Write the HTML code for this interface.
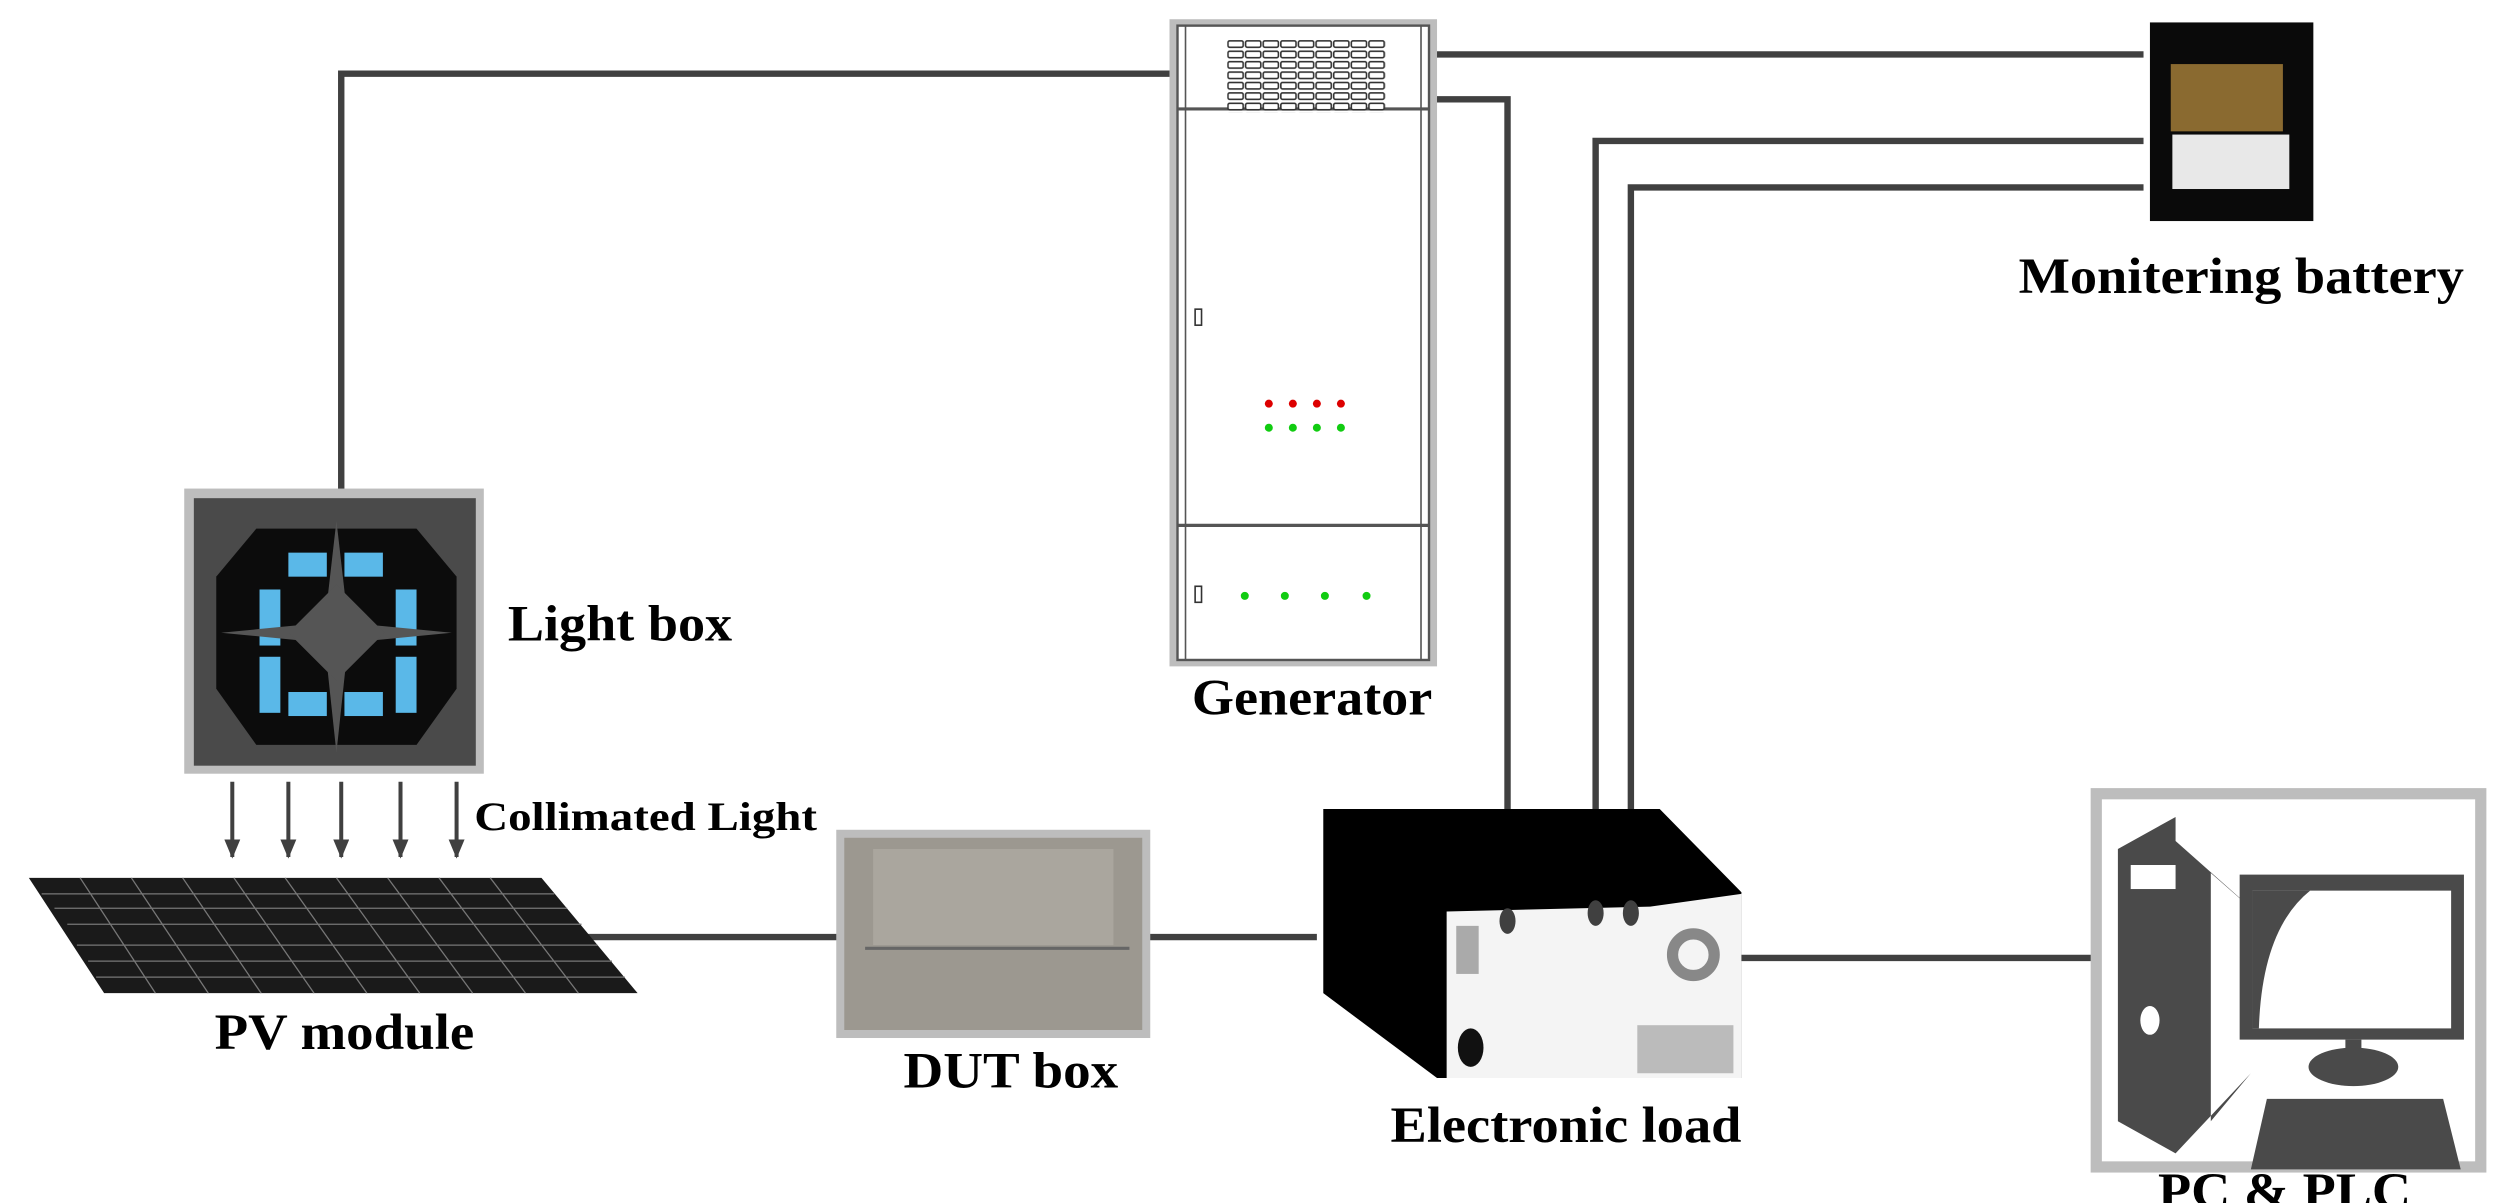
<!DOCTYPE html>
<html><head><meta charset="utf-8"><style>html,body{margin:0;padding:0;background:#fff}svg{display:block}</style></head>
<body>
<svg width="2512" height="1203" viewBox="0 0 1568 751" preserveAspectRatio="none" xmlns="http://www.w3.org/2000/svg">
<defs>
<marker id="ar" markerWidth="12" markerHeight="10" refX="11" refY="5" orient="auto" markerUnits="userSpaceOnUse">
<path d="M0,0 L12,5 L0,10 Z" fill="#404040"/></marker>
<pattern id="vent" x="766" y="25" width="11" height="6.5" patternUnits="userSpaceOnUse">
<rect x="0.5" y="0.5" width="9.5" height="4" fill="#fff" stroke="#333" stroke-width="1" rx="1"/></pattern>
</defs>
<g fill="none" stroke="#404040" stroke-width="4">
<polyline points="213,308 213,46 735,46"/>
<line x1="890" y1="34" x2="1338" y2="34"/>
<polyline points="890,62 941,62 941,575"/>
<polyline points="1338,88 996,88 996,570"/>
<polyline points="1338,117 1018,117 1018,570"/>
<line x1="365" y1="585" x2="525" y2="585"/>
<line x1="712" y1="585" x2="822" y2="585"/>
<line x1="1087" y1="598" x2="1308" y2="598"/>
</g>
<!-- generator -->
<rect x="730" y="12" width="167" height="404" fill="#bdbdbd"/>
<rect x="735" y="16" width="157" height="396" fill="#fff" stroke="#555" stroke-width="1.5"/>
<line x1="740" y1="16" x2="740" y2="412" stroke="#555"/>
<line x1="887" y1="16" x2="887" y2="412" stroke="#555"/>
<line x1="735" y1="68" x2="892" y2="68" stroke="#555" stroke-width="2"/>
<line x1="735" y1="328" x2="892" y2="328" stroke="#555" stroke-width="2"/>
<rect x="766" y="25" width="99" height="45.5" fill="url(#vent)"/>
<rect x="746" y="193" width="4" height="10" fill="#fff" stroke="#333"/>
<rect x="746" y="366" width="4" height="10" fill="#fff" stroke="#333"/>
<g fill="#d00"><circle cx="792" cy="252" r="2.5"/><circle cx="807" cy="252" r="2.5"/><circle cx="822" cy="252" r="2.5"/><circle cx="837" cy="252" r="2.5"/></g>
<g fill="#1c1"><circle cx="792" cy="267" r="2.5"/><circle cx="807" cy="267" r="2.5"/><circle cx="822" cy="267" r="2.5"/><circle cx="837" cy="267" r="2.5"/>
<circle cx="777" cy="372" r="2.5"/><circle cx="802" cy="372" r="2.5"/><circle cx="827" cy="372" r="2.5"/><circle cx="853" cy="372" r="2.5"/></g>
<!-- battery -->
<rect x="1342" y="14" width="102" height="124" fill="#0a0a0a"/>
<rect x="1355" y="40" width="70" height="42" fill="#8a6a30"/>
<rect x="1356" y="84" width="73" height="34" fill="#e8e8e8"/>
<!-- light box -->
<rect x="115" y="305" width="187" height="178" fill="#bdbdbd"/>
<rect x="121" y="311" width="176" height="167" fill="#4a4a4a"/>
<polygon points="160,330 260,330 285,360 285,430 260,465 160,465 135,430 135,360" fill="#0c0c0c"/>
<g fill="#5ab8e8"><rect x="180" y="345" width="24" height="15"/><rect x="215" y="345" width="24" height="15"/><rect x="162" y="368" width="13" height="35"/><rect x="162" y="410" width="13" height="35"/><rect x="247" y="368" width="13" height="35"/><rect x="247" y="410" width="13" height="35"/><rect x="180" y="432" width="24" height="15"/><rect x="215" y="432" width="24" height="15"/></g>
<polygon points="210,325 218,395 210,470 202,395" fill="#555"/>
<polygon points="138,395 210,388 282,395 210,402" fill="#555"/>
<polygon points="210,365 240,395 210,425 180,395" fill="#555"/>
<!-- arrows -->
<g stroke="#404040" stroke-width="2.5" marker-end="url(#ar)">
<line x1="145" y1="488" x2="145" y2="535"/><line x1="180" y1="488" x2="180" y2="535"/><line x1="213" y1="488" x2="213" y2="535"/><line x1="250" y1="488" x2="250" y2="535"/><line x1="285" y1="488" x2="285" y2="535"/>
</g>
<!-- PV -->
<polygon points="18,548 338,548 398,620 65,620" fill="#1a1a1a"/>
<g stroke="#777" stroke-width="0.8">
<line x1="26" y1="558" x2="346" y2="558"/><line x1="34" y1="567" x2="354" y2="567"/><line x1="42" y1="577" x2="363" y2="577"/><line x1="48" y1="590" x2="373" y2="590"/><line x1="55" y1="600" x2="382" y2="600"/><line x1="60" y1="610" x2="390" y2="610"/>
<line x1="50" y1="548" x2="97" y2="620"/><line x1="82" y1="548" x2="130" y2="620"/><line x1="114" y1="548" x2="163" y2="620"/><line x1="146" y1="548" x2="196" y2="620"/><line x1="178" y1="548" x2="229" y2="620"/><line x1="210" y1="548" x2="262" y2="620"/><line x1="242" y1="548" x2="295" y2="620"/><line x1="274" y1="548" x2="328" y2="620"/><line x1="306" y1="548" x2="361" y2="620"/>
</g>
<!-- DUT -->
<rect x="522" y="518" width="196" height="130" fill="#bdbdbd"/>
<rect x="527" y="523" width="186" height="120" fill="#9c9890"/>
<rect x="545" y="530" width="150" height="60" fill="#aaa69e"/>
<line x1="540" y1="592" x2="705" y2="592" stroke="#666" stroke-width="2"/>
<!-- electronic load -->
<polygon points="826,505 1036,505 1087,557 1087,673 897,673 826,620" fill="#000"/>
<polygon points="903,569 1030,566 1087,558 1087,673 903,673" fill="#f4f4f4"/>
<circle cx="1057" cy="596" r="13" fill="none" stroke="#888" stroke-width="7"/>
<rect x="1022" y="640" width="60" height="30" fill="#bbb"/>
<ellipse cx="918" cy="654" rx="8" ry="12" fill="#111"/>
<rect x="909" y="578" width="14" height="30" fill="#aaa"/>
<g fill="#404040"><ellipse cx="941" cy="575" rx="5" ry="8"/><ellipse cx="996" cy="570" rx="5" ry="8"/><ellipse cx="1018" cy="570" rx="5" ry="8"/></g>
<!-- PC -->
<rect x="1305" y="492" width="247" height="240" fill="#bdbdbd"/>
<rect x="1312" y="499" width="233" height="226" fill="#fff"/>
<polygon points="1322,530 1358,510 1358,525 1420,580 1380,545 1380,700 1405,670 1358,720 1322,700" fill="#4a4a4a"/>
<rect x="1330" y="540" width="28" height="15" fill="#fff"/>
<ellipse cx="1342" cy="637" rx="6" ry="9" fill="#fff"/>
<rect x="1398" y="546" width="140" height="103" fill="#4a4a4a"/>
<rect x="1406" y="556" width="124" height="86" fill="#fff"/>
<path d="M1406,556 L1442,556 Q1412,580 1410,642 L1406,642 Z" fill="#4a4a4a"/>
<rect x="1464" y="649" width="10" height="10" fill="#4a4a4a"/>
<ellipse cx="1469" cy="666" rx="28" ry="12" fill="#4a4a4a"/>
<polygon points="1415,686 1525,686 1536,730 1405,730" fill="#4a4a4a"/>
<!-- labels -->
<g font-family="'Liberation Serif',serif" font-weight="bold" fill="#000">
<text x="317" y="400" font-size="32" textLength="140" lengthAdjust="spacingAndGlyphs">Light box</text>
<text x="744" y="446" font-size="32" textLength="150" lengthAdjust="spacingAndGlyphs">Generator</text>
<text x="1260" y="183" font-size="32" textLength="278" lengthAdjust="spacingAndGlyphs">Monitering battery</text>
<text x="296" y="518" font-size="25" textLength="214" lengthAdjust="spacingAndGlyphs">Collimated Light</text>
<text x="134" y="655" font-size="32" textLength="162" lengthAdjust="spacingAndGlyphs">PV module</text>
<text x="564" y="679" font-size="32" textLength="134" lengthAdjust="spacingAndGlyphs">DUT box</text>
<text x="868" y="713" font-size="32" textLength="219" lengthAdjust="spacingAndGlyphs">Electronic load</text>
<text x="1347" y="754" font-size="32" textLength="158" lengthAdjust="spacingAndGlyphs">PC &amp; PLC</text>
</g>
</svg>
</body></html>
